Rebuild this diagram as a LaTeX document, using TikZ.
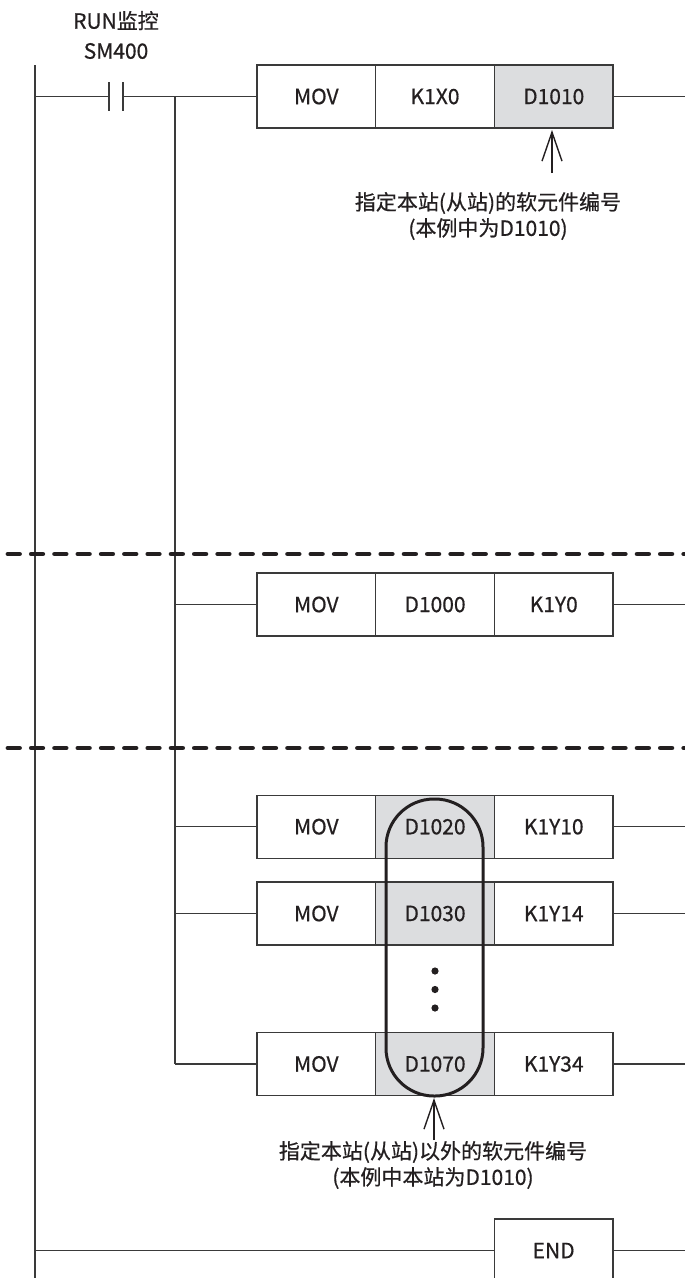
\documentclass[tikz,border=0pt]{standalone}
\usepackage{fontspec}
\newfontfamily\cjk[FakeBold=0.6]{Noto Sans CJK SC}
\usetikzlibrary{arrows.meta,positioning}
\definecolor{ink}{HTML}{231F20}
\definecolor{wire}{HTML}{3A3A3A}
\definecolor{shade}{HTML}{DCDDDF}
\tikzset{
  wireln/.style={draw=wire,line width=1.3pt},
  cell/.style={draw=wire,line width=1.3pt,minimum width=118.7pt,minimum height=63pt,inner sep=0pt,outer sep=0pt,
    text=ink,font=\cjk\fontsize{21}{24}\selectfont},
  dcell/.style={cell,fill=shade},
  note/.style={text=ink,font=\cjk\fontsize{21}{26}\selectfont,align=center,inner sep=0pt},
  sep/.style={draw=ink,line width=4.8pt,line cap=round,dash pattern=on 11.5pt off 11.8pt},
  barb/.style={draw=ink,line width=1.4pt,-{Straight Barb[length=29pt,width=20pt]}},
  capsule/.style={draw=ink,line width=3pt,rounded corners=48pt},
}
\begin{document}
\begin{tikzpicture}[x=1pt,y=-1pt]
\useasboundingbox (0,0) rectangle (685,1278);
% rails
\coordinate (railtop) at (35,65);
\coordinate (railbot) at (35,1278);
\draw[wireln] (railtop) -- (railbot);
% contact label
\node[note,font=\cjk\fontsize{21}{30}\selectfont] (lbl) at (116,35) {RUN监控\\SM400};
% contact
\coordinate (c1) at (109,96.5);
\coordinate (c2) at (123,96.5);
\draw[wireln] (35,96.5) -- (c1);
\draw[wireln] (109,82) -- (109,111);
\draw[wireln] (123,82) -- (123,111);
% branch bus
\coordinate (b1) at (175,96.5);
\coordinate (b5) at (175,1064);
\draw[wireln] (b1) -- (b5);

% row 1
\node[cell] (r1a) at (316.35,96.5) {MOV};
\node[cell,right=0pt of r1a] (r1b) {K1X0};
\node[dcell,right=0pt of r1b] (r1c) {D1010};
\draw[wireln] (c2) -- (r1a.west);
\draw[wireln] (r1c.east) -- (685,96.5);

% separators
\draw[sep] (8,554) -- (685,554);
\draw[sep] (8,748) -- (685,748);

% row 2
\node[cell] (r2a) at (316.35,604.5) {MOV};
\node[cell,right=0pt of r2a] (r2b) {D1000};
\node[cell,right=0pt of r2b] (r2c) {K1Y0};
\draw[wireln] (175,604.5) -- (r2a.west);
\draw[wireln] (r2c.east) -- (685,604.5);

% row 3
\node[cell] (r3a) at (316.35,826.7) {MOV};
\node[dcell,right=0pt of r3a] (r3b) {D1020};
\node[cell,right=0pt of r3b] (r3c) {K1Y10};
\draw[wireln] (175,826.7) -- (r3a.west);
\draw[wireln] (r3c.east) -- (685,826.7);

% row 4
\node[cell] (r4a) at (316.35,913.5) {MOV};
\node[dcell,right=0pt of r4a] (r4b) {D1030};
\node[cell,right=0pt of r4b] (r4c) {K1Y14};
\draw[wireln] (175,913.5) -- (r4a.west);
\draw[wireln] (r4c.east) -- (685,913.5);

% row 5
\node[cell] (r5a) at (316.35,1064) {MOV};
\node[dcell,right=0pt of r5a] (r5b) {D1070};
\node[cell,right=0pt of r5b] (r5c) {K1Y34};
\draw[wireln] (b5) -- (r5a.west);
\draw[wireln] (r5c.east) -- (685,1064);

% dots
\foreach \yy in {971,989.5,1008} \fill[ink] (435,\yy) circle (3.6pt);

% capsule
\draw[capsule] (386,799) rectangle (483,1096);

% END
\node[cell] (endb) at (553.65,1250.5) {END};
\draw[wireln] (35,1250.5) -- (endb.west);
\draw[wireln] (endb.east) -- (685,1250.5);

% note 1
\node[note] (n1) at (488,216) {指定本站(从站)的软元件编号\\(本例中为D1010)};
\coordinate (a1) at (552,173);
\draw[barb] (a1) -- (552,130);

% note 2
\node[note] (n2) at (433,1165) {指定本站(从站)以外的软元件编号\\(本例中本站为D1010)};
\coordinate (a2) at (434,1140);
\draw[barb] (a2) -- (434,1098);
\end{tikzpicture}
\end{document}
